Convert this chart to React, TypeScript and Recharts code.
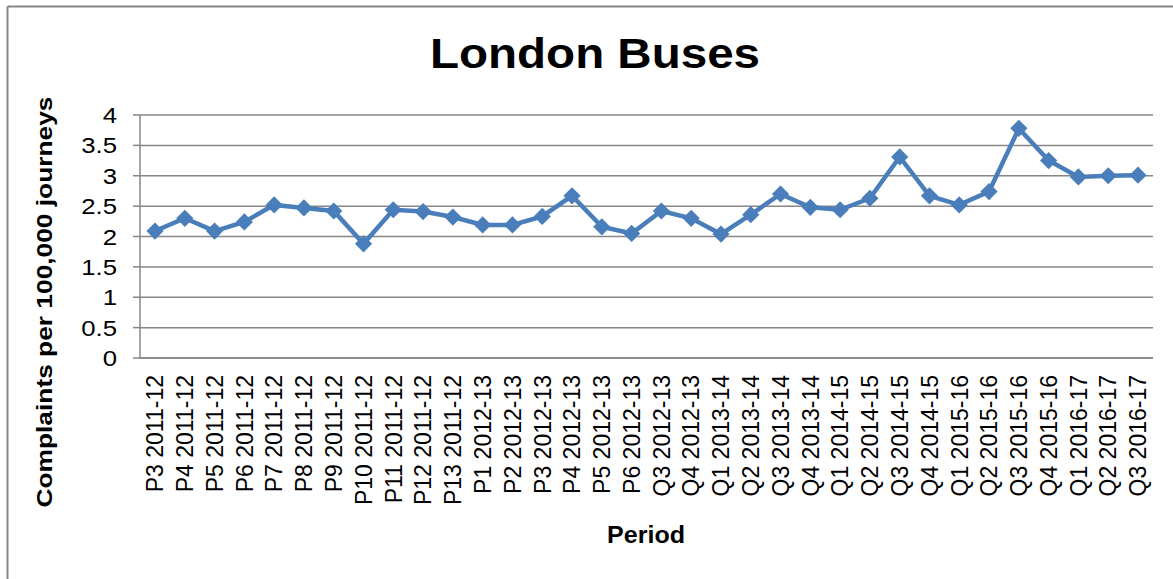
import React from 'react';
import { LineChart, Line, XAxis, YAxis, CartesianGrid } from 'recharts';

const periods = [
  'P3 2011-12', 'P4 2011-12', 'P5 2011-12', 'P6 2011-12', 'P7 2011-12', 'P8 2011-12',
  'P9 2011-12', 'P10 2011-12', 'P11 2011-12', 'P12 2011-12', 'P13 2011-12',
  'P1 2012-13', 'P2 2012-13', 'P3 2012-13', 'P4 2012-13', 'P5 2012-13', 'P6 2012-13',
  'Q3 2012-13', 'Q4 2012-13',
  'Q1 2013-14', 'Q2 2013-14', 'Q3 2013-14', 'Q4 2013-14',
  'Q1 2014-15', 'Q2 2014-15', 'Q3 2014-15', 'Q4 2014-15',
  'Q1 2015-16', 'Q2 2015-16', 'Q3 2015-16', 'Q4 2015-16',
  'Q1 2016-17', 'Q2 2016-17', 'Q3 2016-17',
];

const complaints = [
  2.09, 2.30, 2.09, 2.24, 2.52, 2.47,
  2.42, 1.88, 2.44, 2.41, 2.32,
  2.19, 2.19, 2.33, 2.67, 2.16, 2.05,
  2.42, 2.30,
  2.04, 2.36, 2.70, 2.48,
  2.44, 2.63, 3.31, 2.67,
  2.52, 2.74, 3.78, 3.25,
  2.98, 3.00, 3.01,
];

const yTicks = [0, 0.5, 1, 1.5, 2, 2.5, 3, 3.5, 4];

const chartData = periods.map((period, i) => ({ period, value: complaints[i] }));

const FONT = '"Liberation Sans", Arial, sans-serif';
const GRAY = '#868686';
const BLUE = '#4a7ebb';

// y tick: Excel text renders a bit wider than ours
const YTick = ({ x, y, payload }: any) => (
  <text
    transform={`translate(${x},${y}) scale(1.12,1)`}
    textAnchor="end"
    dy="0.35em"
    fontFamily={FONT}
    fontSize={23}
    fill="#000"
  >
    {payload.value}
  </text>
);

const XTick = ({ x, y, payload }: any) => (
  <text
    transform={`translate(${x},${y}) rotate(-90)`}
    textAnchor="end"
    dy="0.36em"
    fontFamily={FONT}
    fontSize={23}
    fill="#000"
  >
    {payload.value}
  </text>
);

const Diamond = ({ cx, cy }: any) => {
  if (cx == null || cy == null) return null;
  const r = 8.6;
  return (
    <polygon
      points={`${cx},${cy - r} ${cx + r},${cy} ${cx},${cy + r} ${cx - r},${cy}`}
      fill={BLUE}
    />
  );
};

export default function App() {
  return (
    <div style={{ position: 'fixed', left: 0, top: 0, width: 1173, height: 579, background: '#fff' }}>
      <LineChart
        width={1173}
        height={579}
        data={chartData}
        margin={{ top: 115, right: 20, bottom: 0, left: 0 }}
      >
        <CartesianGrid vertical={false} stroke={GRAY} strokeWidth={1.5} />
        <XAxis
          dataKey="period"
          interval={0}
          height={221}
          padding={{ left: 15, right: 15 }}
          tickLine={false}
          tickSize={6}
          tickMargin={11}
          axisLine={{ stroke: GRAY, strokeWidth: 1.5 }}
          tick={<XTick />}
        />
        <YAxis
          width={140}
          domain={[0, 4]}
          ticks={yTicks}
          interval={0}
          tickSize={7}
          tickMargin={16}
          tickLine={{ stroke: GRAY, strokeWidth: 1.5 }}
          axisLine={{ stroke: GRAY, strokeWidth: 1.5 }}
          tick={<YTick />}
        />
        <Line
          type="linear"
          dataKey="value"
          stroke={BLUE}
          strokeWidth={4.5}
          dot={<Diamond />}
          activeDot={false}
          isAnimationActive={false}
        />
      </LineChart>
      <svg
        width={1173}
        height={579}
        style={{ position: 'absolute', left: 0, top: 0, pointerEvents: 'none' }}
      >
        <line x1={7.5} y1={6.5} x2={1173} y2={6.5} stroke={GRAY} strokeWidth={2} />
        <line x1={7.5} y1={6.5} x2={7.5} y2={579} stroke={GRAY} strokeWidth={2} />
        <text
          x={595}
          y={68}
          textAnchor="middle"
          fontFamily={FONT}
          fontWeight="bold"
          fontSize={42}
          textLength={330}
          lengthAdjust="spacingAndGlyphs"
        >
          London Buses
        </text>
        <text
          transform="translate(51.5,302) rotate(-90)"
          textAnchor="middle"
          fontFamily={FONT}
          fontWeight="bold"
          fontSize={22}
          textLength={411}
          lengthAdjust="spacingAndGlyphs"
        >
          Complaints per 100,000 journeys
        </text>
        <text
          x={646}
          y={543}
          textAnchor="middle"
          fontFamily={FONT}
          fontWeight="bold"
          fontSize={24}
          textLength={78}
          lengthAdjust="spacingAndGlyphs"
        >
          Period
        </text>
      </svg>
    </div>
  );
}
